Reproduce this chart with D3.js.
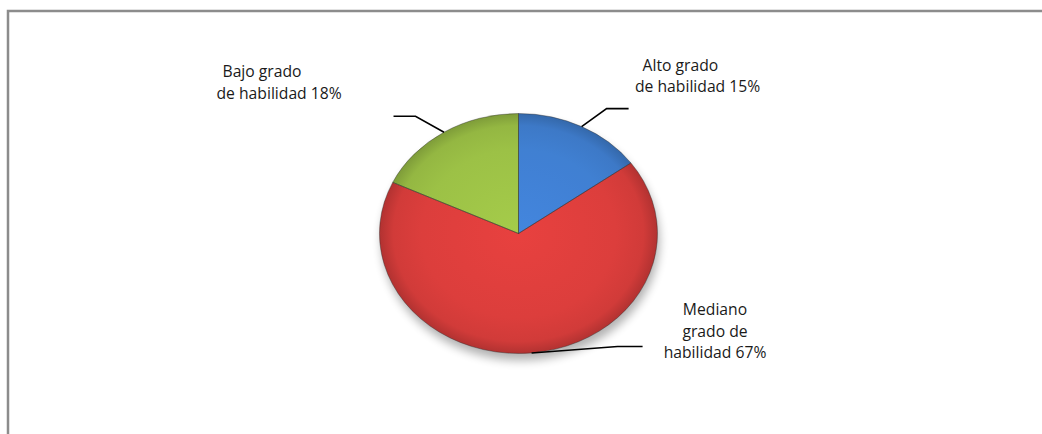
<!DOCTYPE html>
<html>
<head>
<meta charset="utf-8">
<script src="https://cdn.jsdelivr.net/npm/d3@7"></script>
<style>
body { margin: 0; background: #fff; }
text { font-family: "Open Sans", sans-serif; font-size: 15.7px; fill: #1a1a1a; }
</style>
</head>
<body>
<svg id="chart" width="1042" height="434"></svg>
<script>
// data
var categories = ["Alto grado de habilidad", "Mediano grado de habilidad", "Bajo grado de habilidad"];
var percents = [15, 67, 18];
var labelLines = [["Alto grado", "de habilidad"], ["Mediano", "grado de", "habilidad"], ["Bajo grado", "de habilidad"]];
var sliceColors = ["#3f7fd2", "#dc3d3b", "#9cc145"];

// layout
var cx = 518.5, cy = 233.5, rx = 139, ry = 120;
var labelPos = [
  {x: 635, y: 70.5, lh: 21.5, anchor: "start", firstDx: 7.5, elbow: [25, -18], tail: 22},
  {x: 715, y: 315, lh: 21.7, anchor: "middle", firstDx: 0, elbow: [86, -6.5], tail: 25},
  {x: 216.5, y: 77, lh: 21.5, anchor: "start", firstDx: 6, elbow: [-28.5, -16], tail: -22}
];

var svg = d3.select("#chart");
var defs = svg.append("defs");

// frame (only top and left edges show)
svg.append("path")
  .attr("d", "M8,434V11H1042")
  .attr("fill", "none")
  .attr("stroke", "#8c8c8c")
  .attr("stroke-width", 2.5);

var blur = defs.append("filter").attr("id", "shadowBlur")
  .attr("x", "-20%").attr("y", "-20%").attr("width", "140%").attr("height", "140%");
blur.append("feGaussianBlur").attr("stdDeviation", 5);

var soft = defs.append("filter").attr("id", "soft")
  .attr("x", "-20%").attr("y", "-20%").attr("width", "140%").attr("height", "140%");
soft.append("feGaussianBlur").attr("stdDeviation", 2.5);

// shadow under the pie
svg.append("ellipse")
  .attr("cx", cx + 2).attr("cy", cy + 7)
  .attr("rx", rx).attr("ry", ry)
  .attr("fill", "#000").attr("opacity", 0.3)
  .attr("filter", "url(#shadowBlur)");

var pie = d3.pie().sort(null).value(function(d) { return d; });
var arcs = pie(percents);
var arc = d3.arc().innerRadius(0).outerRadius(1);

sliceColors.forEach(function(c, i) {
  var g = defs.append("radialGradient").attr("id", "grad" + i)
    .attr("gradientUnits", "userSpaceOnUse")
    .attr("cx", 0).attr("cy", 0).attr("r", 1);
  var base = d3.color(c);
  g.append("stop").attr("offset", 0).attr("stop-color", base.brighter(0.15));
  g.append("stop").attr("offset", 0.7).attr("stop-color", base);
  g.append("stop").attr("offset", 0.9).attr("stop-color", base.darker(0.15));
  g.append("stop").attr("offset", 1).attr("stop-color", base.darker(0.6));
  defs.append("clipPath").attr("id", "clip" + i)
    .append("path").attr("d", arc(arcs[i]));
});

var pieG = svg.append("g")
  .attr("transform", "translate(" + cx + "," + cy + ") scale(" + rx + "," + ry + ")");

pieG.selectAll("path.slice")
  .data(arcs)
  .enter().append("path")
  .attr("class", "slice")
  .attr("d", arc)
  .attr("fill", function(d, i) { return "url(#grad" + i + ")"; });

// bevel highlight along each slice's edges
pieG.selectAll("g.bevel")
  .data(arcs)
  .enter().append("g")
  .attr("class", "bevel")
  .attr("clip-path", function(d, i) { return "url(#clip" + i + ")"; })
  .append("path")
  .attr("d", arc)
  .attr("fill", "none")
  .attr("stroke", "#fff")
  .attr("stroke-opacity", 0.4)
  .attr("stroke-width", 10)
  .attr("vector-effect", "non-scaling-stroke")
  .attr("filter", "url(#soft)");

pieG.selectAll("path.edge")
  .data(arcs)
  .enter().append("path")
  .attr("class", "edge")
  .attr("d", arc)
  .attr("fill", "none")
  .attr("stroke", "#2b2b2b")
  .attr("stroke-opacity", 0.5)
  .attr("stroke-width", 0.8)
  .attr("vector-effect", "non-scaling-stroke");

function edgePoint(a) {
  return [cx + rx * Math.sin(a), cy - ry * Math.cos(a)];
}

// leader lines
arcs.forEach(function(d, i) {
  var p = labelPos[i];
  var mid = (d.startAngle + d.endAngle) / 2;
  var s = edgePoint(mid);
  var e = [s[0] + p.elbow[0], s[1] + p.elbow[1]];
  svg.append("path")
    .attr("d", d3.line()([s, e, [e[0] + p.tail, e[1]]]))
    .attr("fill", "none")
    .attr("stroke", "#000")
    .attr("stroke-width", 1.6);
});

// labels
labelLines.forEach(function(lines, i) {
  var p = labelPos[i];
  var t = svg.append("text").attr("text-anchor", p.anchor);
  lines.forEach(function(l, j) {
    var str = j == lines.length - 1 ? l + " " + percents[i] + "%" : l;
    t.append("tspan")
      .attr("x", p.x + (j == 0 ? p.firstDx : 0))
      .attr("y", p.y + j * p.lh)
      .text(str);
  });
});
</script>
</body>
</html>
